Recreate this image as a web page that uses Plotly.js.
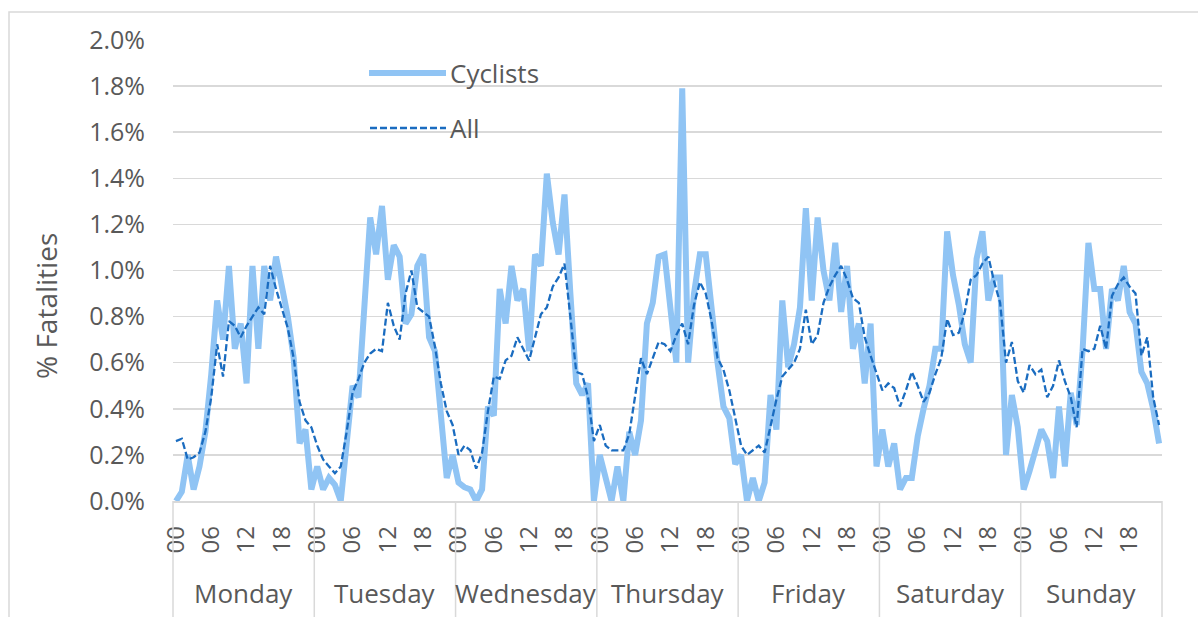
<!DOCTYPE html>
<html>
<head>
<meta charset="utf-8">
<script src="https://cdn.plot.ly/plotly-3.0.1.min.js"></script>
<style>
  html, body { margin: 0; padding: 0; background: #ffffff; }
  #chart { width: 1198px; height: 617px; }
</style>
</head>
<body>
<div id="chart"></div>
<script>
// ---- Data (values in % of fatalities, one per hour, Monday 00 .. Sunday 23) ----
const days = ['Monday', 'Tuesday', 'Wednesday', 'Thursday', 'Friday', 'Saturday', 'Sunday'];
const hourLabels = ['00', '06', '12', '18'];
const hourLabelPositions = [0, 6, 12, 18];
const hoursPerDay = 24;

const cyclists = [
  // Monday
  0.00, 0.04, 0.20, 0.05, 0.15, 0.30, 0.55, 0.87, 0.70, 1.02, 0.66, 0.77, 0.51, 1.02, 0.66, 1.02, 0.87, 1.06, 0.93, 0.80, 0.62, 0.25, 0.31, 0.05,
  // Tuesday
  0.15, 0.05, 0.10, 0.07, 0.00, 0.25, 0.50, 0.45, 0.80, 1.23, 1.07, 1.28, 0.96, 1.11, 1.06, 0.77, 0.81, 1.02, 1.07, 0.71, 0.65, 0.40, 0.10, 0.20,
  // Wednesday
  0.08, 0.06, 0.05, 0.00, 0.05, 0.41, 0.37, 0.92, 0.77, 1.02, 0.87, 0.92, 0.65, 1.07, 1.02, 1.42, 1.21, 1.07, 1.33, 0.90, 0.51, 0.46, 0.51, 0.00,
  // Thursday
  0.20, 0.10, 0.00, 0.15, 0.00, 0.30, 0.20, 0.35, 0.77, 0.86, 1.06, 1.07, 0.82, 0.60, 1.79, 0.60, 0.90, 1.07, 1.07, 0.81, 0.60, 0.41, 0.36, 0.16,
  // Friday
  0.20, 0.00, 0.10, 0.00, 0.08, 0.46, 0.31, 0.87, 0.58, 0.68, 0.84, 1.27, 0.87, 1.23, 1.00, 0.87, 1.12, 0.82, 1.02, 0.66, 0.77, 0.51, 0.77, 0.15,
  // Saturday
  0.31, 0.15, 0.25, 0.05, 0.10, 0.10, 0.28, 0.40, 0.50, 0.66, 0.66, 1.17, 0.98, 0.85, 0.68, 0.60, 1.05, 1.17, 0.87, 0.97, 0.97, 0.20, 0.46, 0.32,
  // Sunday
  0.05, 0.13, 0.21, 0.31, 0.26, 0.10, 0.41, 0.15, 0.47, 0.33, 0.65, 1.12, 0.92, 0.92, 0.66, 0.92, 0.87, 1.02, 0.82, 0.77, 0.56, 0.51, 0.40, 0.25
];

const allRoadUsers = [
  // Monday
  0.26, 0.27, 0.18, 0.19, 0.21, 0.30, 0.45, 0.68, 0.54, 0.78, 0.76, 0.71, 0.76, 0.80, 0.84, 0.81, 1.02, 0.92, 0.84, 0.75, 0.62, 0.43, 0.35, 0.32,
  // Tuesday
  0.24, 0.18, 0.15, 0.12, 0.15, 0.30, 0.47, 0.53, 0.60, 0.64, 0.66, 0.65, 0.86, 0.76, 0.70, 0.90, 1.00, 0.84, 0.82, 0.80, 0.67, 0.51, 0.39, 0.33,
  // Wednesday
  0.20, 0.24, 0.22, 0.14, 0.21, 0.39, 0.54, 0.53, 0.61, 0.63, 0.71, 0.66, 0.61, 0.71, 0.81, 0.84, 0.93, 0.97, 1.03, 0.80, 0.56, 0.55, 0.45, 0.26,
  // Thursday
  0.33, 0.24, 0.22, 0.22, 0.22, 0.29, 0.45, 0.62, 0.55, 0.62, 0.69, 0.68, 0.65, 0.72, 0.77, 0.68, 0.85, 0.95, 0.90, 0.78, 0.62, 0.57, 0.48, 0.36,
  // Friday
  0.24, 0.20, 0.22, 0.24, 0.21, 0.33, 0.44, 0.54, 0.57, 0.60, 0.66, 0.83, 0.68, 0.72, 0.86, 0.93, 0.98, 1.02, 0.96, 0.88, 0.86, 0.71, 0.63, 0.55,
  // Saturday
  0.48, 0.51, 0.49, 0.41, 0.48, 0.56, 0.50, 0.43, 0.47, 0.55, 0.62, 0.79, 0.72, 0.73, 0.82, 0.96, 0.98, 1.03, 1.06, 0.95, 0.86, 0.60, 0.69, 0.52,
  // Sunday
  0.47, 0.59, 0.55, 0.57, 0.45, 0.50, 0.61, 0.52, 0.45, 0.32, 0.66, 0.65, 0.66, 0.76, 0.66, 0.89, 0.94, 0.97, 0.93, 0.90, 0.63, 0.71, 0.45, 0.33
];

// ---- Build chart ----
const nPoints = days.length * hoursPerDay;
const xIdx = Array.from({length: nPoints}, (_, i) => i);

const tickvals = [];
const ticktext = [];
days.forEach((d, k) => {
  hourLabelPositions.forEach((h, j) => {
    tickvals.push(k * hoursPerDay + h);
    ticktext.push(hourLabels[j]);
  });
});

const textColor = '#595959';
const gridColor = '#d9d9d9';
const cycColor = '#90c4f4';
const allColor = '#1a6cc0';
const fontFamily = '"Open Sans", "Noto Sans", sans-serif';

const traces = [
  {
    x: xIdx, y: cyclists, name: 'Cyclists', type: 'scatter', mode: 'lines',
    line: {color: cycColor, width: 6}, hoverinfo: 'skip'
  },
  {
    x: xIdx, y: allRoadUsers, name: 'All', type: 'scatter', mode: 'lines',
    line: {color: allColor, width: 2.3, dash: '7px,3px'}, hoverinfo: 'skip'
  }
];

// plot-area geometry (pixels) used to place decorations in paper units
const W = 1198, H = 617;
const mL = 173, mR = 36, mT = 40, mB = 116;
const pw = W - mL - mR, ph = H - mT - mB;
const px = (p) => (p - mL) / pw;
const py = (p) => (H - mB - p) / ph;

const shapes = [];
// chart border
shapes.push({type: 'rect', xref: 'paper', yref: 'paper',
  x0: px(9), x1: px(1210), y0: py(630), y1: py(12),
  line: {color: gridColor, width: 1.5}, fillcolor: 'rgba(0,0,0,0)'});
// day separators under the axis
for (let k = 0; k <= days.length; k++) {
  shapes.push({type: 'line', xref: 'paper', yref: 'paper',
    x0: k / days.length, x1: k / days.length, y0: 0, y1: py(617),
    line: {color: gridColor, width: 1.5}});
}
// legend samples
shapes.push({type: 'line', xref: 'paper', yref: 'paper',
  x0: px(369), x1: px(446), y0: py(73), y1: py(73),
  line: {color: cycColor, width: 6}});
shapes.push({type: 'line', xref: 'paper', yref: 'paper',
  x0: px(370), x1: px(446), y0: py(128), y1: py(128),
  line: {color: allColor, width: 2.3, dash: '7px,3px'}});

const annotations = [];
days.forEach((d, k) => {
  annotations.push({text: d, xref: 'paper', yref: 'paper',
    x: (k + 0.5) / days.length, y: py(593), xanchor: 'center', yanchor: 'middle',
    showarrow: false, font: {size: 26, color: textColor, family: fontFamily}});
});
annotations.push({text: 'Cyclists', xref: 'paper', yref: 'paper', x: px(448), y: py(73),
  xanchor: 'left', yanchor: 'middle', showarrow: false,
  font: {size: 26, color: textColor, family: fontFamily}});
annotations.push({text: 'All', xref: 'paper', yref: 'paper', x: px(448), y: py(128),
  xanchor: 'left', yanchor: 'middle', showarrow: false,
  font: {size: 26, color: textColor, family: fontFamily}});
annotations.push({text: '% Fatalities', xref: 'paper', yref: 'paper', x: px(46), y: py(306),
  xanchor: 'center', yanchor: 'middle', textangle: -90, showarrow: false,
  font: {size: 28, color: textColor, family: fontFamily}});

const layout = {
  width: W, height: H,
  margin: {l: mL, r: mR, t: mT, b: mB, pad: 0},
  paper_bgcolor: '#ffffff', plot_bgcolor: '#ffffff',
  showlegend: false,
  font: {family: fontFamily, color: textColor},
  xaxis: {
    range: [-0.5, nPoints - 0.5], tickmode: 'array', tickvals: tickvals, ticktext: ticktext,
    tickangle: -90, tickfont: {size: 24, color: textColor}, ticks: '',
    showgrid: false, zeroline: false, showline: true, linecolor: gridColor, linewidth: 1.5,
    ticklabelstandoff: 14, fixedrange: true
  },
  yaxis: {
    range: [0, 2], tick0: 0, dtick: 0.2, tickformat: '.1f', ticksuffix: '%',
    tickfont: {size: 25, color: textColor}, ticks: '',
    showgrid: true, gridcolor: gridColor, gridwidth: 1.5, zeroline: false, showline: false,
    ticklabelstandoff: 27, fixedrange: true
  },
  shapes: shapes,
  annotations: annotations
};

Plotly.newPlot('chart', traces, layout, {displayModeBar: false, staticPlot: true});
</script>
</body>
</html>
